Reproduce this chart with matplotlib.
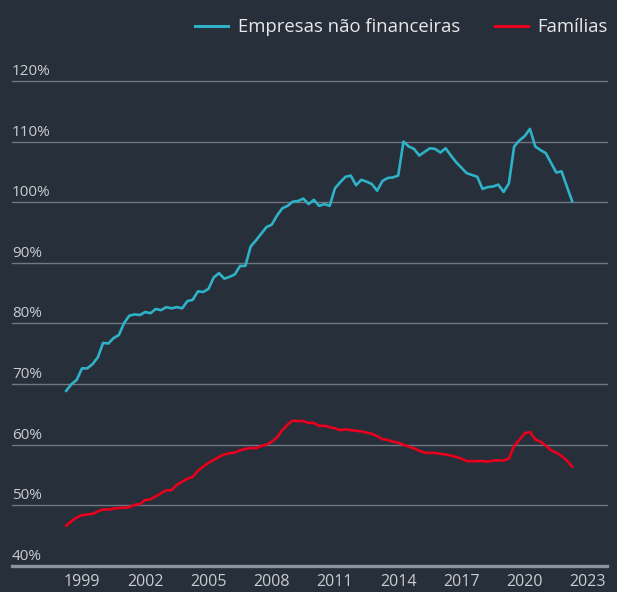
import numpy as np
import matplotlib.pyplot as plt
from matplotlib.lines import Line2D

# quarterly series, 1998Q2 .. 2022Q2 (% of GDP)
start_year = 1998.25
empresas = [
    68.9, 70.0, 70.7, 72.6, 72.6, 73.3, 74.4, 76.8, 76.7, 77.6, 78.1, 80.1, 81.3, 81.5,
    81.4, 81.9, 81.7, 82.4, 82.2, 82.7, 82.5, 82.7, 82.5, 83.7, 83.9, 85.3, 85.2,
    85.7, 87.6, 88.3, 87.4, 87.7, 88.1, 89.5, 89.5, 92.7, 93.7, 94.8, 95.9, 96.3,
    97.8, 99.0, 99.4, 100.1, 100.2, 100.6, 99.7, 100.4, 99.4, 99.7, 99.4, 102.3,
    103.3, 104.2, 104.4, 102.8, 103.7, 103.4, 103.0, 101.9, 103.5, 104.0, 104.1,
    104.4, 110.0, 109.2, 108.8, 107.7, 108.3, 108.9, 108.8, 108.2, 108.9, 107.7,
    106.6, 105.7, 104.8, 104.5, 104.2, 102.2, 102.5, 102.6, 102.9, 101.7, 103.1,
    109.2, 110.2, 110.9, 112.1, 109.2, 108.6, 108.1, 106.5, 104.9, 105.1, 102.6, 100.2,
]
familias = [
    46.65, 47.4, 48.0, 48.4, 48.5, 48.6, 49.0, 49.35, 49.3, 49.45, 49.6, 49.6, 49.7,
    50.1, 50.2, 50.9, 51.0, 51.5, 52.0, 52.5, 52.5, 53.4, 53.9, 54.4, 54.7, 55.7,
    56.4, 57.0, 57.5, 58.0, 58.4, 58.6, 58.7, 59.1, 59.3, 59.5, 59.4, 59.8, 60.0,
    60.5, 61.2, 62.4, 63.3, 64.0, 63.9, 63.9, 63.6, 63.6, 63.1, 63.15, 62.9, 62.7,
    62.4, 62.55, 62.4, 62.3, 62.2, 62.0, 61.8, 61.45, 60.9, 60.8, 60.5, 60.35, 60.0,
    59.7, 59.4, 59.0, 58.7, 58.65, 58.65, 58.5, 58.4, 58.2, 58.0, 57.7, 57.3, 57.3,
    57.3, 57.3, 57.2, 57.4, 57.4, 57.4, 57.7, 59.8, 60.8, 61.9, 62.1, 60.9, 60.5,
    59.85, 59.1, 58.7, 58.15, 57.4, 56.4,
]
series_names = ["Empresas não financeiras", "Famílias"]
year_ticks = [1999, 2002, 2005, 2008, 2011, 2014, 2017, 2020, 2023]
y_ticks = [40, 50, 60, 70, 80, 90, 100, 110, 120]

BG = "#262f3a"
BLUE = "#2fb2c8"
RED = "#e8001c"
GRID = "#6f7781"
TXT = "#c9cdd2"

plt.rcParams["font.family"] = ["Open Sans", "DejaVu Sans"]

t = start_year + 0.25 * np.arange(len(empresas))

fig = plt.figure(figsize=(6.17, 5.92), dpi=100, facecolor=BG)
ax = fig.add_axes([12 / 617, 26 / 592, 595 / 617, 485 / 592], facecolor=BG)
ax.set_xlim(1995.68, 2023.905)
ax.set_ylim(40, 120)

for v in y_ticks:
    if v == 40:
        ax.axhline(v, color="#8c939b", lw=2.4, clip_on=False, zorder=1)
    else:
        ax.axhline(v, color=GRID, lw=1.0, clip_on=False, zorder=1)
    ax.annotate(f"{v}%", (0, v), xycoords=("axes fraction", "data"),
                xytext=(0, 1.5), textcoords="offset points",
                ha="left", va="bottom", fontsize=11, color=TXT)

ax.plot(t, empresas, color=BLUE, lw=1.9, zorder=3, solid_joinstyle="round")
ax.plot(t, familias, color=RED, lw=1.9, zorder=3, solid_joinstyle="round")

for s in ax.spines.values():
    s.set_visible(False)
ax.set_yticks([])
ax.set_xticks(year_ticks)
ax.set_xticklabels([str(y) for y in year_ticks])
ax.tick_params(axis="x", length=0, pad=6, labelsize=11.5, colors=TXT)

handles = [Line2D([], [], color=BLUE, lw=2.2), Line2D([], [], color=RED, lw=2.2)]
fig.legend(handles, series_names, loc="upper right", bbox_to_anchor=(1.012, 0.997),
           ncol=2, frameon=False, fontsize=13.3, labelcolor="#e6e8ea",
           handlelength=1.8, handletextpad=0.5, columnspacing=1.9)

fig.savefig("out.png", dpi=100, facecolor=BG)
